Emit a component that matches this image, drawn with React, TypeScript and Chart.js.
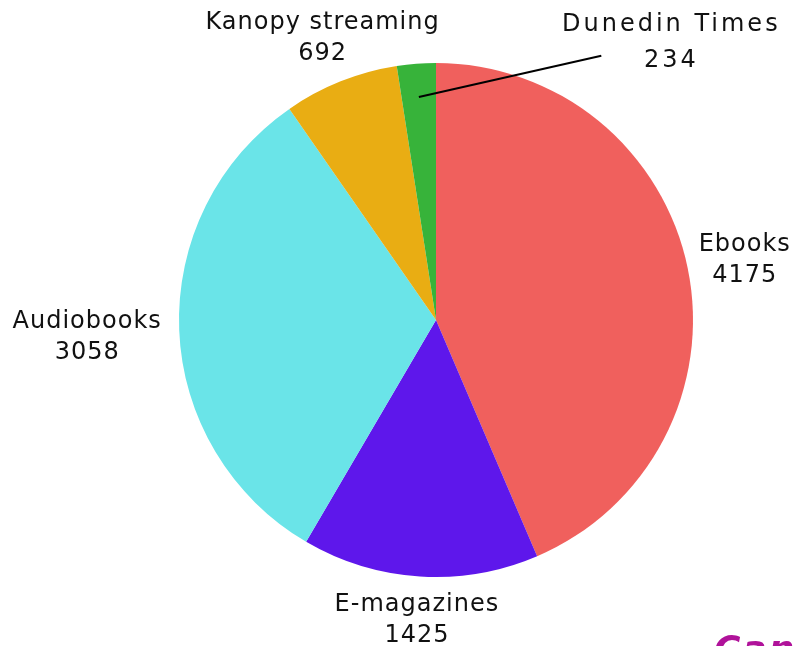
import React, { useEffect, useRef } from "react";
import { Chart, registerables } from "chart.js";

Chart.register(...registerables);

const categories = ["Ebooks", "E-magazines", "Audiobooks", "Kanopy streaming", "Dunedin Times"];
const values = [4175, 1425, 3058, 692, 234];
const colors = ["#F0605D", "#5E17EB", "#6AE4E8", "#E9AD13", "#37B33A"];
// label block centre offset from the slice's outer edge midpoint
const labelOffsets: [number, number][] = [
  [57, -8],
  [-3, 44],
  [-92, 7],
  [-18, -43],
  [0, 0],
];

const FONT = "'DejaVu Sans', sans-serif";

const labelPlugin = {
  id: "outerLabels",
  afterDatasetsDraw(chart: any) {
    const ctx = chart.ctx;
    const meta = chart.getDatasetMeta(0);
    ctx.save();
    ctx.fillStyle = "#111";
    ctx.textAlign = "center";
    ctx.textBaseline = "middle";
    meta.data.forEach((arc: any, i: number) => {
      const { x, y, startAngle, endAngle, outerRadius } = arc.getProps(
        ["x", "y", "startAngle", "endAngle", "outerRadius"],
        true
      );
      const mid = (startAngle + endAngle) / 2;
      const ex = x + Math.cos(mid) * outerRadius;
      const ey = y + Math.sin(mid) * outerRadius;
      let cx: number, cy: number, lh: number;
      if (i === 4) {
        // leader line label
        const sx = x + Math.cos(mid) * outerRadius * 0.87;
        const sy = y + Math.sin(mid) * outerRadius * 0.87;
        cx = ex + 255;
        cy = ey - 21;
        lh = 36;
        ctx.strokeStyle = "#000";
        ctx.lineWidth = 2;
        ctx.beginPath();
        ctx.moveTo(sx, sy);
        ctx.lineTo(cx - 70, cy + 13);
        ctx.stroke();
        (ctx as any).letterSpacing = "3px";
      } else {
        cx = ex + labelOffsets[i][0];
        cy = ey + labelOffsets[i][1];
        lh = 31;
        (ctx as any).letterSpacing = "1px";
      }
      ctx.font = `24px ${FONT}`;
      ctx.fillText(categories[i], cx, cy - lh / 2);
      ctx.fillText(String(values[i]), cx, cy + lh / 2);
    });
    ctx.restore();
  },
};

export default function App() {
  const ref = useRef<HTMLCanvasElement>(null);
  useEffect(() => {
    document.body.style.margin = "0";
    const chart = new Chart(ref.current!, {
      type: "pie",
      data: {
        labels: categories,
        datasets: [
          {
            data: values,
            backgroundColor: colors,
            borderWidth: 0,
          },
        ],
      },
      options: {
        responsive: false,
        animation: false,
        layout: { padding: { top: 63, bottom: 69, left: 179, right: 101 } },
        plugins: { legend: { display: false }, tooltip: { enabled: false } },
      },
      plugins: [labelPlugin],
    });
    return () => chart.destroy();
  }, []);
  return (
    <div style={{ position: "relative", width: 794, height: 646, overflow: "hidden", background: "#fff" }}>
      <canvas ref={ref} width={794} height={646} />
      <div
        style={{
          position: "absolute",
          left: 714,
          top: 628,
          fontFamily: FONT,
          fontWeight: "bold",
          fontStyle: "italic",
          fontSize: 36,
          letterSpacing: 2,
          color: "#B0129A",
          whiteSpace: "nowrap",
        }}
      >
        Canva
      </div>
    </div>
  );
}
